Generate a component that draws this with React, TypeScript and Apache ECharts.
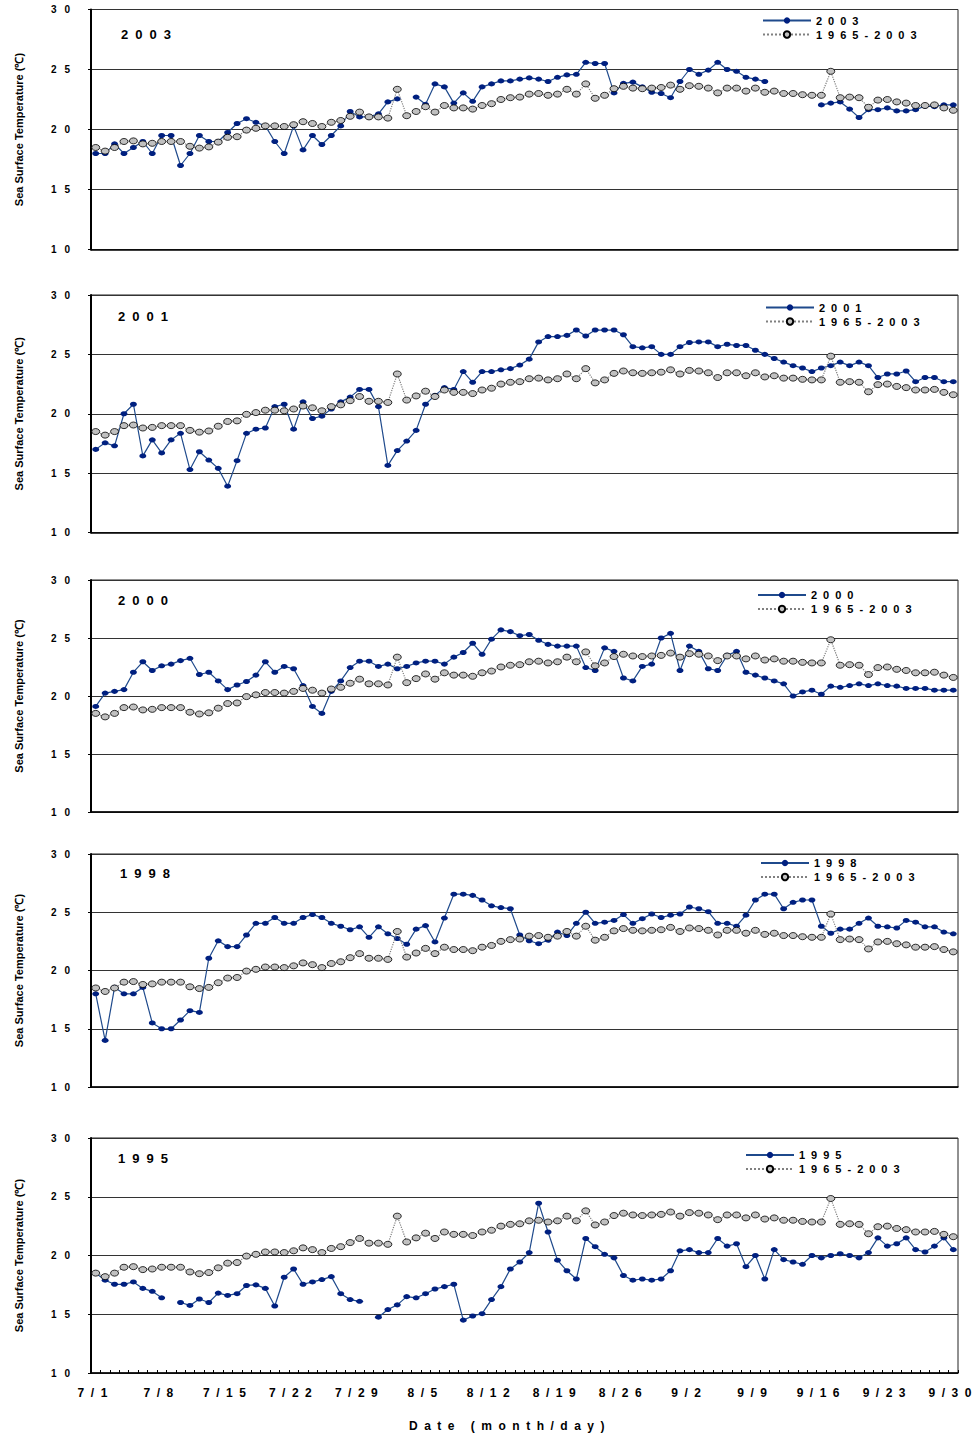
import React, { useEffect, useRef } from 'react';
import * as echarts from 'echarts';

// ---------- categories (7/1 .. 9/30) ----------
const MONTH_DAYS: [number, number][] = [[7, 31], [8, 31], [9, 30]];
const dates: string[] = [];
MONTH_DAYS.forEach(([m, n]) => {
  for (let d = 1; d <= n; d++) dates.push(`${m}/${d}`);
});

const yMin = 10;
const yMax = 30;
const yStep = 5;

const climName = '1965-2003';
const clim = [
  18.5, 18.2, 18.5, 19.0, 19.05, 18.8, 18.85, 19.0, 19.0, 19.0,
  18.6, 18.45, 18.55, 18.95, 19.35, 19.4, 19.95, 20.1, 20.3, 20.3,
  20.25, 20.4, 20.65, 20.5, 20.25, 20.6, 20.75, 21.1, 21.45, 21.05,
  21.05, 20.95, 23.35, 21.15, 21.5, 21.9, 21.45, 22.0, 21.8, 21.8,
  21.7, 22.0, 22.15, 22.5, 22.65, 22.7, 22.95, 23.0, 22.85, 22.95,
  23.35, 22.95, 23.8, 22.6, 22.85, 23.4, 23.6, 23.45, 23.4, 23.45,
  23.5, 23.7, 23.35, 23.65, 23.6, 23.45, 23.05, 23.45, 23.45, 23.2,
  23.45, 23.1, 23.2, 23.0, 23.0, 22.9, 22.85, 22.85, 24.85, 22.65,
  22.7, 22.65, 21.85, 22.45, 22.5, 22.3, 22.2, 22.0, 22.0, 22.05,
  21.8, 21.6,
];

const sst2003 = [
  18.0, 18.0, 18.8, 18.0, 18.5, 19.0, 18.0, 19.5, 19.5, 17.0,
  18.0, 19.5, 19.0, 19.0, 19.75, 20.5, 20.9, 20.6, 20.3, 19.0,
  18.0, 20.3, 18.3, 19.5, 18.75, 19.5, 20.3, 21.5, 21.05, 21.05,
  21.3, 22.3, 22.55, null, 22.7, 22.1, 23.8, 23.55, 22.2, 23.05,
  22.35, 23.55, 23.8, 24.05, 24.05, 24.2, 24.3, 24.2, 24.0, 24.35,
  24.55, 24.6, 25.6, 25.5, 25.5, 23.05, 23.85, 23.95, 23.55, 23.1,
  23.0, 22.65, 24.0, 25.0, 24.6, 24.95, 25.6, 25.0, 24.85, 24.35,
  24.2, 24.0, null, null, null, null, null, 22.05, 22.2, 22.3,
  21.7, 21.0, 21.65, 21.65, 21.8, 21.55, 21.55, 21.65, 21.95, 21.9,
  22.05, 22.05,
];

const sst2001 = [
  17.0, 17.55, 17.3, 20.0, 20.8, 16.45, 17.8, 16.7, 17.8, 18.35,
  15.3, 16.8, 16.1, 15.4, 13.9, 16.05, 18.35, 18.7, 18.8, 20.6,
  20.8, 18.7, 21.0, 19.6, 19.8, 20.4, 21.0, 21.4, 22.05, 22.05,
  20.6, 15.65, 16.9, 17.7, 18.6, 20.8, 21.55, 22.2, 22.05, 23.55,
  22.65, 23.55, 23.55, 23.7, 23.8, 24.1, 24.6, 26.05, 26.5, 26.5,
  26.6, 27.05, 26.55, 27.05, 27.05, 27.05, 26.65, 25.65, 25.55, 25.65,
  25.0, 25.0, 25.65, 26.0, 26.05, 26.05, 25.65, 25.85, 25.75, 25.75,
  25.35, 25.0, 24.65, 24.35, 24.05, 23.85, 23.55, 23.85, 24.05, 24.35,
  24.05, 24.35, 24.05, 23.05, 23.35, 23.35, 23.6, 22.7, 23.05, 23.05,
  22.7, 22.7,
];

const sst2000 = [
  19.1, 20.25, 20.4, 20.55, 22.05, 22.95, 22.2, 22.6, 22.75, 23.05,
  23.25, 21.85, 22.05, 21.3, 20.55, 20.95, 21.25, 21.8, 22.95, 22.05,
  22.55, 22.35, 20.9, 19.1, 18.5, 20.4, 21.3, 22.45, 23.0, 23.0,
  22.55, 22.75, 22.35, 22.55, 22.85, 23.0, 23.0, 22.75, 23.35, 23.75,
  24.55, 23.6, 24.9, 25.7, 25.55, 25.2, 25.3, 24.8, 24.45, 24.3,
  24.3, 24.3, 22.45, 22.2, 24.15, 23.85, 21.55, 21.3, 22.55, 22.75,
  25.0, 25.4, 22.2, 24.3, 23.85, 22.35, 22.2, 23.5, 23.85, 22.05,
  21.8, 21.55, 21.3, 21.05, 20.0, 20.35, 20.5, 20.15, 20.85, 20.75,
  20.9, 21.05, 20.9, 21.05, 20.9, 20.85, 20.65, 20.65, 20.65, 20.5,
  20.5, 20.5,
];

const sst1998 = [
  18.0, 14.0, 18.55, 18.0, 18.0, 18.55, 15.5, 15.0, 15.0, 15.75,
  16.55, 16.4, 21.05, 22.55, 22.05, 22.05, 23.05, 24.05, 24.05, 24.55,
  24.05, 24.05, 24.55, 24.8, 24.55, 24.05, 23.8, 23.5, 23.75, 22.85,
  23.75, 23.15, 22.75, 22.25, 23.55, 23.85, 22.45, 24.5, 26.55, 26.55,
  26.45, 26.05, 25.55, 25.4, 25.3, 23.05, 22.55, 22.3, 22.6, 23.3,
  23.0, 24.05, 25.0, 24.05, 24.15, 24.3, 24.8, 24.05, 24.45, 24.85,
  24.55, 24.75, 24.85, 25.45, 25.3, 25.05, 24.05, 24.05, 23.8, 24.75,
  26.05, 26.55, 26.55, 25.3, 25.85, 26.05, 26.05, 23.8, 23.2, 23.55,
  23.55, 24.05, 24.5, 23.8, 23.75, 23.65, 24.3, 24.15, 23.75, 23.75,
  23.3, 23.15,
];

const sst1995 = [
  18.5, 17.9, 17.55, 17.55, 17.75, 17.2, 16.95, 16.4, null, 16.0,
  15.75, 16.3, 16.0, 16.8, 16.6, 16.75, 17.45, 17.5, 17.2, 15.7,
  18.15, 18.85, 17.55, 17.75, 17.95, 18.2, 16.75, 16.25, 16.1, null,
  14.75, 15.4, 15.8, 16.5, 16.4, 16.75, 17.15, 17.35, 17.55, 14.5,
  14.85, 15.05, 16.25, 17.35, 18.85, 19.45, 20.25, 24.45, 22.0, 19.6,
  18.7, 18.0, 21.45, 20.75, 20.1, 19.8, 18.3, 17.9, 18.0, 17.9,
  18.0, 18.7, 20.4, 20.5, 20.25, 20.25, 21.45, 20.8, 21.0, 19.05,
  20.0, 18.0, 20.5, 19.65, 19.45, 19.25, 20.0, 19.8, 20.0, 20.15,
  20.0, 19.8, 20.25, 21.5, 20.8, 21.0, 21.5, 20.5, 20.3, 20.8,
  21.5, 20.5,
];

const years = ['2003', '2001', '2000', '1998', '1995'];
const yearValues = [sst2003, sst2001, sst2000, sst1998, sst1995];

// ---------- layout (positions only) ----------
const W = 977;
const H = 1437;
const PLOT_LEFT = 91;
const PLOT_RIGHT = 19;
const panelBox = [
  { top: 9.5, height: 240 },
  { top: 295, height: 237.5 },
  { top: 580, height: 232 },
  { top: 854, height: 233 },
  { top: 1138, height: 235 },
];
const legendPos = [
  { left: 762, row1: 20.5 },
  { left: 765, row1: 307.5 },
  { left: 757, row1: 595 },
  { left: 760, row1: 863 },
  { left: 745, row1: 1155 },
];
const titlePos = [
  { x: 121, y: 34 },
  { x: 118, y: 316 },
  { x: 118, y: 600 },
  { x: 120, y: 873 },
  { x: 118, y: 1158 },
];

const FONT = '"Liberation Sans", Arial, Helvetica, sans-serif';
const BLUE_MARK = '#002080';
const BLUE_LINE = '#1f4a8c';

const spaceOut = (root: HTMLElement) => {
  try {
    root.querySelectorAll('text').forEach((node) => {
      const el = node as unknown as SVGTextElement;
      const s = el.textContent || '';
      if (s.indexOf('Sea') >= 0) return;
      const fs = parseFloat(window.getComputedStyle(el).fontSize) || 12;
      const ls = fs < 10.5 ? 8 : fs < 11.5 ? 6 : fs < 12.5 ? 6.5 : 7;
      el.style.letterSpacing = ls + 'px';
    });
  } catch (e) {
    /* ignore */
  }
};

export default function App() {
  const ref = useRef<HTMLDivElement>(null);

  useEffect(() => {
    if (!ref.current) return;
    const el = ref.current;
    const chart = echarts.init(el, undefined, { renderer: 'svg' });
    const last = years.length - 1;

    const grid = panelBox.map((b) => ({
      left: PLOT_LEFT,
      right: PLOT_RIGHT,
      top: b.top,
      height: b.height,
      show: true,
      borderColor: '#222',
      borderWidth: 1,
      backgroundColor: '#fff',
    }));

    const xAxis = years.map((_, k) => ({
      type: 'category',
      gridIndex: k,
      data: dates,
      boundaryGap: true,
      axisLine: { show: true, onZero: false, lineStyle: { color: '#000', width: 1.5 } },
      axisTick: {
        show: k === last,
        inside: true,
        interval: 0,
        length: 3,
        lineStyle: { color: '#000', width: 1 },
      },
      axisLabel: {
        show: k === last,
        interval: 6,
        color: '#000',
        fontSize: 12,
        fontWeight: 'bold',
        fontFamily: FONT,
        margin: 14,
      },
      splitLine: { show: false },
    }));

    const yAxis = years.map((_, k) => ({
      type: 'value',
      gridIndex: k,
      min: yMin,
      max: yMax,
      interval: yStep,
      axisLine: { show: true, lineStyle: { color: '#000', width: 2 } },
      axisTick: { show: true, length: 3, lineStyle: { color: '#000' } },
      axisLabel: {
        color: '#000',
        fontSize: 10,
        fontWeight: 'bold',
        fontFamily: FONT,
        margin: 13,
      },
      splitLine: { show: true, lineStyle: { color: '#333', width: 1 } },
      name: 'Sea Surface Temperature (℃)',
      nameLocation: 'middle',
      nameGap: 67,
      nameTextStyle: { fontSize: 11, fontWeight: 'bold', color: '#000', fontFamily: FONT },
    }));

    const series: any[] = [];
    years.forEach((yr, k) => {
      series.push({
        type: 'line',
        name: yr,
        xAxisIndex: k,
        yAxisIndex: k,
        data: yearValues[k],
        symbol: 'circle',
        symbolSize: [7, 5],
        showSymbol: true,
        showAllSymbol: true,
        connectNulls: false,
        itemStyle: { color: BLUE_MARK },
        lineStyle: { color: BLUE_LINE, width: 1.2 },
        z: 2,
      });
      series.push({
        type: 'line',
        name: climName,
        xAxisIndex: k,
        yAxisIndex: k,
        data: clim,
        symbol: 'circle',
        symbolSize: [8, 6],
        showSymbol: true,
        showAllSymbol: true,
        itemStyle: { color: '#c0c0c0', borderColor: '#000', borderWidth: 0.8 },
        lineStyle: { color: '#808080', width: 1.2, type: 'dotted' },
        z: 3,
      });
    });

    const legend = years.map((yr, k) => ({
      orient: 'vertical',
      left: legendPos[k].left,
      top: legendPos[k].row1 - 5.5,
      itemWidth: 48,
      itemHeight: 8,
      itemGap: 3,
      padding: 0,
      selectedMode: false,
      data: [yr, climName],
      textStyle: { fontSize: 11, fontWeight: 'bold', color: '#000', fontFamily: FONT },
    }));

    const graphic: any[] = years.map((yr, k) => ({
      type: 'text',
      x: titlePos[k].x,
      y: titlePos[k].y,
      style: {
        text: yr,
        fontSize: 13,
        fontWeight: 'bold',
        fontFamily: FONT,
        fill: '#000',
        align: 'left',
        verticalAlign: 'middle',
      },
    }));
    graphic.push({
      type: 'text',
      x: 409,
      y: 1426,
      style: {
        text: 'Date (month/day)',
        fontSize: 12,
        fontWeight: 'bold',
        fontFamily: FONT,
        fill: '#000',
        align: 'left',
        verticalAlign: 'middle',
      },
    });

    chart.setOption({
      animation: false,
      backgroundColor: '#fff',
      grid,
      xAxis,
      yAxis,
      series,
      legend,
      graphic,
    } as any);

    spaceOut(el);
    chart.on('finished', () => spaceOut(el));

    return () => {
      chart.dispose();
    };
  }, []);

  return (
    <div
      ref={ref}
      style={{ position: 'absolute', left: 0, top: 0, width: W, height: H, background: '#fff' }}
    />
  );
}
